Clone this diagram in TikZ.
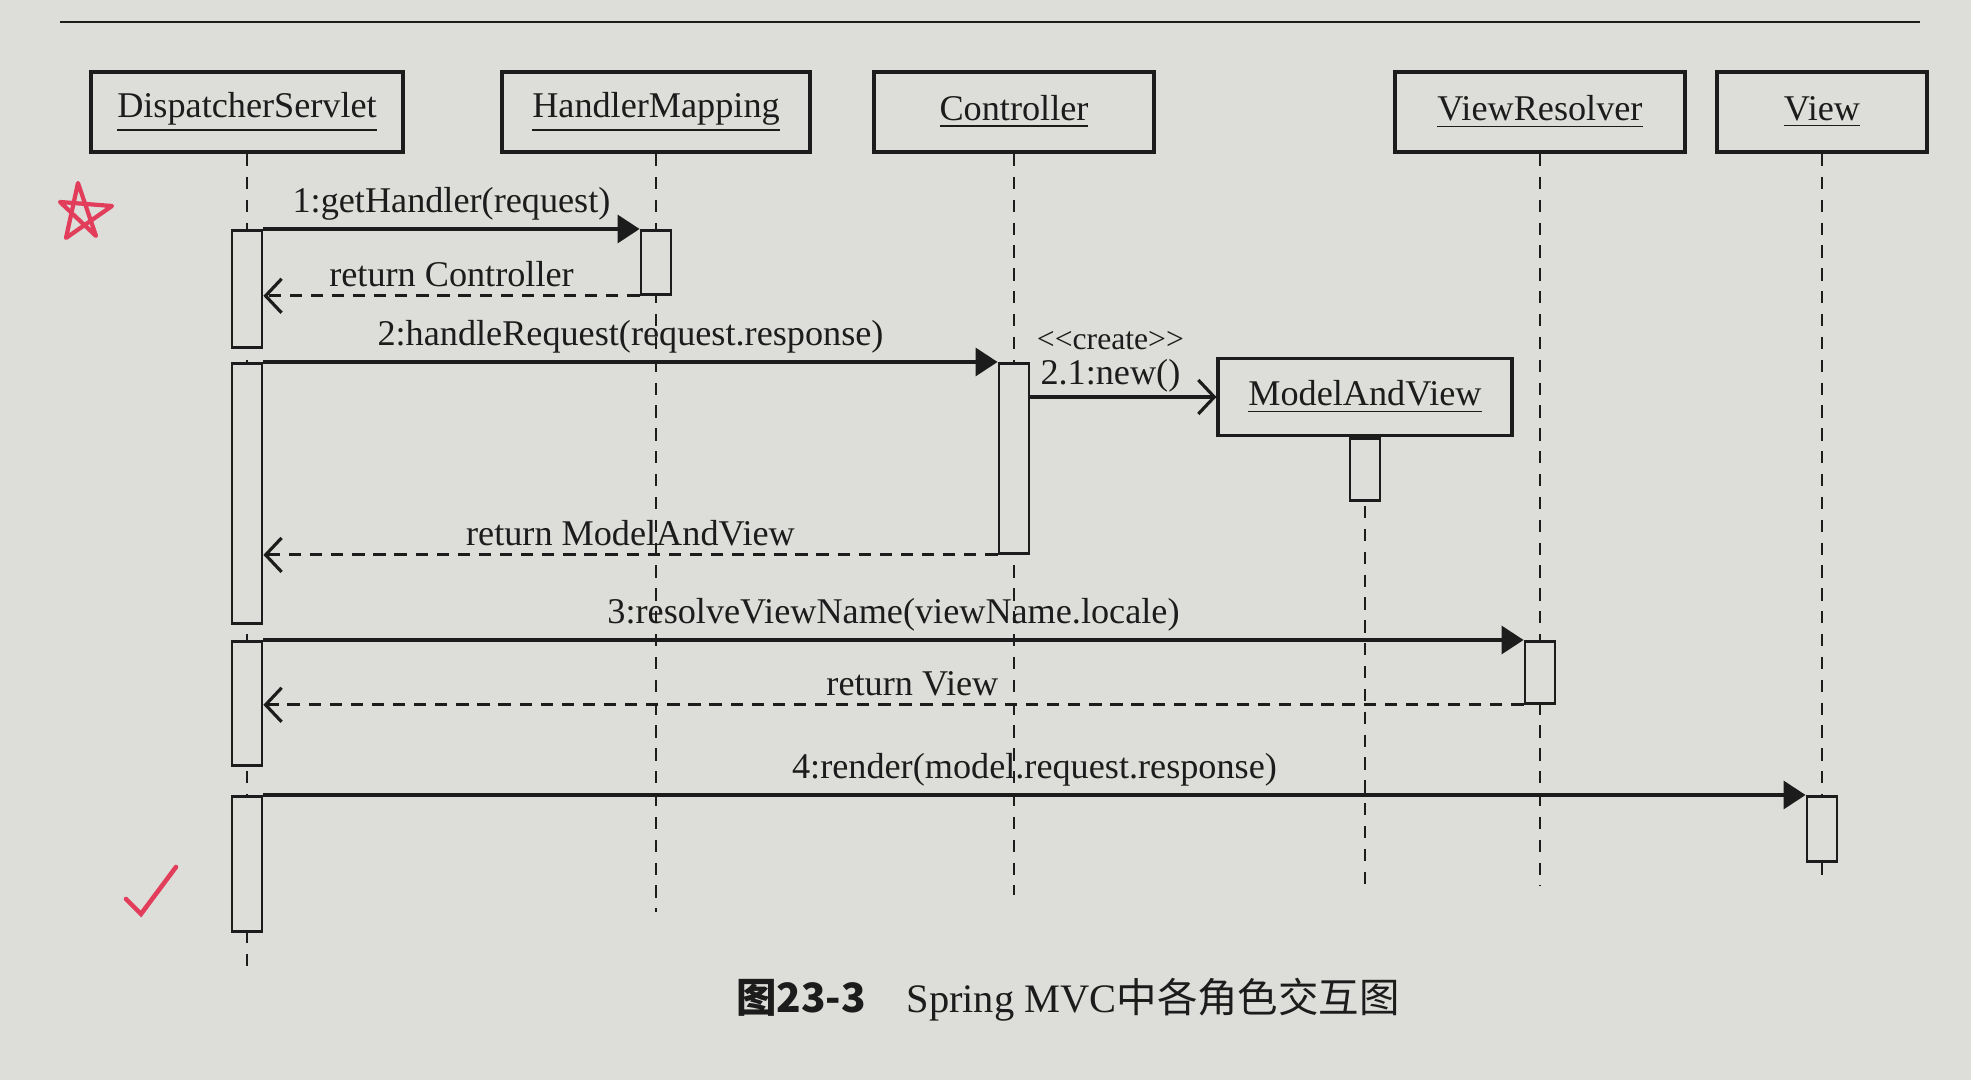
\documentclass[tikz,border=0pt]{standalone}
\usepackage{fontspec}
\setmainfont{Liberation Serif}
\newfontfamily\cjk{Noto Sans CJK SC}
\usetikzlibrary{arrows.meta}
\definecolor{paper}{RGB}{221,221,218}
\definecolor{ink}{RGB}{28,28,28}
\definecolor{pen}{RGB}{226,62,92}
\tikzset{
	objbox/.style={draw=ink, line width=1.1pt, fill=paper, minimum height=0.8cm, text=ink, font=\fontsize{10.3}{12}\selectfont},
	act/.style={draw=ink, line width=0.8pt, fill=paper, minimum width=0.3cm, inner sep=0pt, anchor=north},
	lifeline/.style={draw=ink, line width=0.7pt, dash pattern=on 3.5pt off 3pt},
	call/.style={draw=ink, line width=0.9pt, -{Triangle[length=2.2mm,width=2.8mm]}},
	reply/.style={draw=ink, line width=0.9pt, dash pattern=on 3.5pt off 2.5pt, -{Straight Barb[length=1.6mm,width=3.4mm]}},
	create/.style={draw=ink, line width=0.9pt, -{Straight Barb[length=1.6mm,width=3.4mm]}},
	msg/.style={text=ink, inner sep=2pt, font=\fontsize{10.3}{12}\selectfont},
}

\begin{document}
\begin{tikzpicture}[x=0.01cm, y=-0.01cm]
		\fill[paper] (0,0) rectangle (1971,1080);
		\useasboundingbox (0,0) rectangle (1971,1080);
		\draw[ink, line width=0.8pt] (60,22) -- (1920,22);
		\node[objbox, minimum width=3.12cm] (ds) at (247,112) {\underline{DispatcherServlet}};
		\node[objbox, minimum width=3.08cm] (hm) at (656,112) {\underline{HandlerMapping}};
		\node[objbox, minimum width=2.8cm] (ct) at (1014,112) {\underline{Controller}};
		\node[objbox, minimum width=2.9cm] (vr) at (1540,112) {\underline{ViewResolver}};
		\node[objbox, minimum width=2.1cm] (vw) at (1822,112) {\underline{View}};
		\node[objbox, minimum width=2.93cm, minimum height=0.77cm] (mv) at (1365,397) {\underline{ModelAndView}};
		\foreach \obj/\yend in {ds/968, hm/912, ct/895, vr/886, vw/880}
			\draw[lifeline] (\obj.south) -- (\obj.south |- 0,\yend);
		\draw[lifeline] (mv.south) -- (mv.south |- 0,886);
		\node[act, minimum height=1.17cm] (dsA) at (247,229) {};
		\node[act, minimum height=0.64cm] (hmA) at (656,229) {};
		\node[act, minimum height=2.6cm] (dsB) at (247,362) {};
		\node[act, minimum height=1.9cm] (ctA) at (1014,362) {};
		\node[act, minimum height=0.62cm] (mvA) at (mv.south) {};
		\node[act, minimum height=1.24cm] (dsC) at (247,640) {};
		\node[act, minimum height=0.62cm] (vrA) at (1540,640) {};
		\node[act, minimum height=1.35cm] (dsD) at (247,795) {};
		\node[act, minimum height=0.65cm] (vwA) at (1822,795) {};
		\draw[call] (dsA.north east) -- node[msg, above] {1:getHandler(request)} (hmA.north west);
		\draw[reply] (hmA.south west) -- node[msg, above] {return Controller} (dsA.east |- hmA.south);
		\draw[call] (dsB.north east) -- node[msg, above] {2:handleRequest(request.response)} (ctA.north west);
		\draw[create] (ctA.east |- mv.west) -- node[msg, above, pos=0.43, inner sep=1pt, align=center, font=\fontsize{10.3}{10}\selectfont] {{\fontsize{9}{10}\selectfont <\kern0pt<create>\kern0pt>}\\2.1:new()} (mv.west);
		\draw[reply] (ctA.south west) -- node[msg, above] {return ModelAndView} (dsB.east |- ctA.south);
		\draw[call] (dsC.north east) -- node[msg, above] {3:resolveViewName(viewName.locale)} (vrA.north west);
		\draw[reply] (vrA.south west) -- node[msg, above, pos=0.485] {return View} (dsC.east |- vrA.south);
		\draw[call] (dsD.north east) -- node[msg, above] {4:render(model.request.response)} (vwA.north west);
		\node[text=ink, font=\fontsize{11.5}{14}\selectfont] (cap) at (1068,1000) {{\cjk\bfseries 图23-3}\quad Spring MVC{\cjk 中各角色交互图}};
		\draw[pen, line width=1.2pt, line join=round] (78,183) -- (96,236) -- (60,202) -- (112,206) -- (66,238) -- cycle;
		\draw[pen, line width=1.3pt, line cap=round] (126,899) -- (141,914) -- (176,867);
\end{tikzpicture}
\end{document}
